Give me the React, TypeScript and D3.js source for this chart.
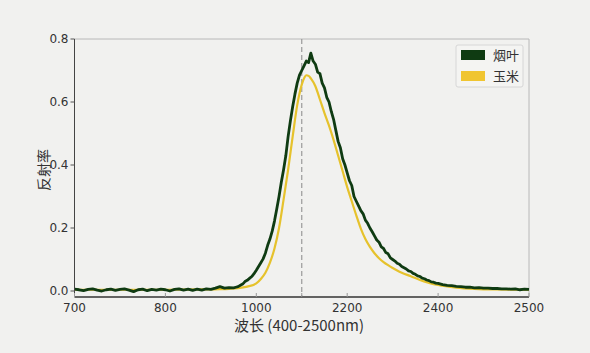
import React from 'react';
import * as d3 from 'd3';

// x positions are in "axis units" 0..100, the tick labels are not evenly spaced wavelengths
const xTickPos = [0, 20, 40, 60, 80, 100];
const xTickLabels = ['700', '800', '1000', '2200', '2400', '2500'];
const yTicks = [0, 0.2, 0.4, 0.6, 0.8];
const markerPos = 50;

const seriesNames = ['烟叶', '玉米'];
const seriesColors = ['#0f3b12', '#f0c530'];

// 烟叶 (noisy)
const tobacco: [number, number][] = [
  [0, 0.006], [1, 0.004], [2, 0.001], [3, 0.005], [4, 0.007], [5, 0.003], [6, 0.0], [7, 0.004],
  [8, 0.006], [9, 0.002], [10, 0.005], [11, 0.007], [12, 0.003], [13, -0.002], [14, 0.004], [15, 0.006],
  [16, 0.001], [17, 0.005], [18, 0.003], [19, 0.006], [20, 0.004], [21, 0.0], [22, 0.005], [23, 0.007],
  [24, 0.003], [25, 0.006], [26, 0.002], [27, 0.006], [28, 0.003], [29, 0.007], [30, 0.005], [31, 0.009],
  [32, 0.014], [33, 0.009], [34, 0.011], [35, 0.01], [35.5, 0.012], [36, 0.014], [36.5, 0.018], [37, 0.022],
  [37.5, 0.03], [38, 0.034], [38.5, 0.04], [39, 0.046], [39.5, 0.055], [40, 0.066], [40.5, 0.078], [41, 0.09],
  [41.5, 0.102], [42, 0.12], [42.5, 0.145], [43, 0.165], [43.5, 0.19], [44, 0.222], [44.5, 0.26], [45, 0.3],
  [45.5, 0.345], [46, 0.385], [46.5, 0.43], [47, 0.49], [47.5, 0.54], [48, 0.585], [48.5, 0.625], [49, 0.66],
  [49.5, 0.685], [50, 0.7], [50.5, 0.715], [51, 0.73], [51.5, 0.725], [52, 0.755], [52.5, 0.73], [53, 0.72],
  [53.5, 0.695], [54, 0.69], [54.5, 0.66], [55, 0.645], [55.5, 0.615], [56, 0.6], [56.5, 0.57], [57, 0.545],
  [57.5, 0.51], [58, 0.475], [58.5, 0.455], [59, 0.42], [59.5, 0.4], [60, 0.375], [60.5, 0.35], [61, 0.335],
  [61.5, 0.3], [62, 0.285], [62.5, 0.27], [63, 0.255], [63.5, 0.245], [64, 0.225], [64.5, 0.215], [65, 0.2],
  [65.5, 0.188], [66, 0.175], [66.5, 0.162], [67, 0.155], [67.5, 0.14], [68, 0.135], [68.5, 0.122], [69, 0.118],
  [69.5, 0.105], [70, 0.1], [70.5, 0.095], [71, 0.088], [71.5, 0.085], [72, 0.078], [72.5, 0.074], [73, 0.07],
  [73.5, 0.064], [74, 0.062], [74.5, 0.056], [75, 0.053], [75.5, 0.048], [76, 0.046], [76.5, 0.041], [77, 0.039],
  [77.5, 0.035], [78, 0.033], [78.5, 0.029], [79, 0.028], [79.5, 0.025], [80, 0.024], [81, 0.02], [82, 0.018],
  [83, 0.017], [84, 0.015], [85, 0.014], [86, 0.012], [87, 0.012], [88, 0.01], [89, 0.011], [90, 0.009],
  [91, 0.009], [92, 0.008], [93, 0.008], [94, 0.007], [95, 0.007], [96, 0.006], [97, 0.007], [98, 0.004],
  [99, 0.006], [100, 0.005],
];

// 玉米 (smooth)
const corn: [number, number][] = [
  [0, 0.004], [10, 0.004], [20, 0.004], [28, 0.005], [32, 0.006], [34, 0.007], [36, 0.009], [38, 0.014],
  [40, 0.024], [41, 0.038], [42, 0.058], [43, 0.09], [44, 0.135], [45, 0.2], [46, 0.29], [47, 0.385],
  [48, 0.49], [49, 0.59], [50, 0.655], [50.5, 0.675], [51, 0.685], [51.5, 0.683], [52, 0.675], [53, 0.65],
  [54, 0.608], [55, 0.565], [56, 0.525], [57, 0.48], [58, 0.43], [59, 0.38], [60, 0.33], [61, 0.285],
  [62, 0.24], [63, 0.198], [64, 0.165], [65, 0.14], [66, 0.12], [67, 0.104], [68, 0.092], [69, 0.082],
  [70, 0.073], [71, 0.065], [72, 0.058], [74, 0.047], [76, 0.035], [78, 0.026], [80, 0.019], [84, 0.011],
  [88, 0.007], [92, 0.005], [100, 0.004],
];

const W = 590;
const H = 353;
const left = 74.5, right = 529, top = 39, bottom = 297;

export default function App() {
  const x = d3.scaleLinear().domain([0, 100]).range([left, right]);
  const y = d3.scaleLinear().domain([-0.019, 0.8]).range([bottom, top]);

  const lineTob = d3.line<[number, number]>().x(d => x(d[0])).y(d => y(d[1]));
  const lineCorn = d3.line<[number, number]>().x(d => x(d[0])).y(d => y(d[1])).curve(d3.curveMonotoneX);

  const numFont = 'DejaVu Sans, sans-serif';
  const cjkFont = 'Noto Sans CJK SC, sans-serif';

  return (
    <svg width={W} height={H} style={{ position: 'absolute', left: 0, top: 0 }}>
      <rect x={0} y={0} width={W} height={H} fill="#f1f1ef" />

      {/* frame: light top/right */}
      <line x1={left} x2={right} y1={top} y2={top} stroke="#b8b8b8" strokeWidth={1} />
      <line x1={right} x2={right} y1={top} y2={bottom} stroke="#b8b8b8" strokeWidth={1} />

      {/* dashed marker */}
      <line x1={x(markerPos)} x2={x(markerPos)} y1={top} y2={bottom}
        stroke="#9a9a9a" strokeWidth={1.2} strokeDasharray="5,3" />

      <path d={lineCorn(corn) || ''} fill="none" stroke="#e6c22c" strokeWidth={2.2} />
      <path d={lineTob(tobacco) || ''} fill="none" stroke={seriesColors[0]} strokeWidth={2.8} strokeLinejoin="round" />

      {/* left + bottom spines */}
      <line x1={left} x2={left} y1={top} y2={bottom} stroke="#444" strokeWidth={1} />
      <line x1={left} x2={right} y1={bottom} y2={bottom} stroke="#333" strokeWidth={1.3} />

      {yTicks.map(t => (
        <g key={t}>
          <line x1={left - 4} x2={left} y1={y(t)} y2={y(t)} stroke="#555" />
          <text x={left - 6} y={y(t)} dy="0.35em" textAnchor="end" fontSize={12} fill="#333" fontFamily={numFont}>
            {t.toFixed(1)}
          </text>
        </g>
      ))}

      {[...xTickPos, markerPos].map(t => (
        <line key={'xt' + t} x1={x(t)} x2={x(t)} y1={bottom} y2={bottom - 4} stroke="#999" />
      ))}
      {xTickPos.map((t, i) => (
        <text key={'xl' + t} x={x(t)} y={bottom + 15} textAnchor="middle" fontSize={12} fill="#333" fontFamily={numFont}>
          {xTickLabels[i]}
        </text>
      ))}

      <text x={299} y={331} textAnchor="middle" fontSize={15} fill="#333" fontFamily={cjkFont}>
        波长 (400-2500nm)
      </text>
      <text transform={`translate(49,170) rotate(-90)`} textAnchor="middle" fontSize={14} fill="#333" fontFamily={cjkFont}>
        反射率
      </text>

      {/* legend */}
      <rect x={456} y={45} width={67} height={42} rx={2} fill="#f4f4f2" stroke="#d6d6d6" />
      {seriesNames.map((n, i) => (
        <g key={n}>
          <rect x={461} y={50 + i * 21} width={24} height={10} fill={seriesColors[i]} />
          <text x={493} y={55 + i * 21} dy="0.35em" fontSize={13} fill="#333" fontFamily={cjkFont}>{n}</text>
        </g>
      ))}
    </svg>
  );
}
